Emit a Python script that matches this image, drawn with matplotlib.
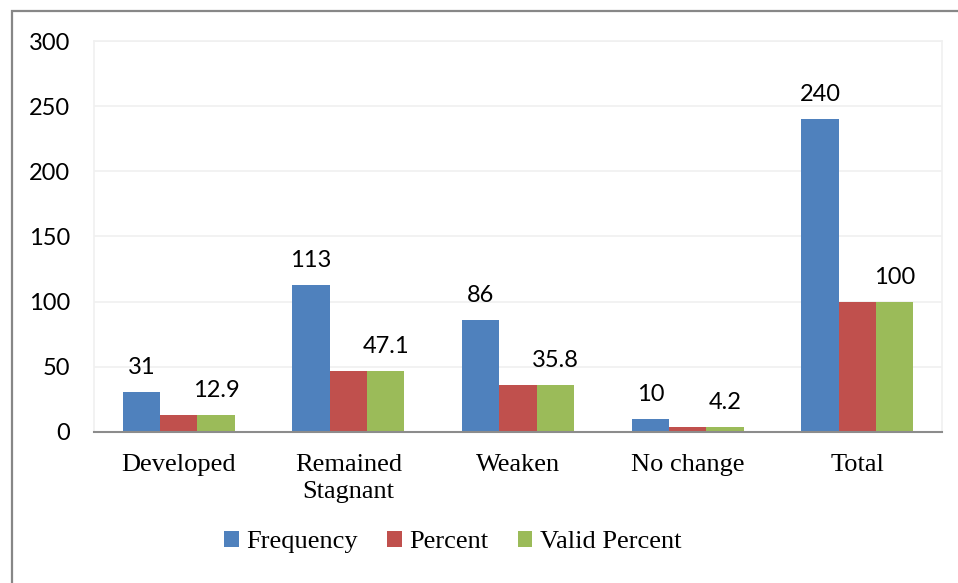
import numpy as np
import matplotlib.pyplot as plt
from matplotlib.patches import Rectangle

categories = ['Developed', 'Remained\nStagnant', 'Weaken', 'No change', 'Total']
frequency = [31, 113, 86, 10, 240]
percent = [12.9, 47.1, 35.8, 4.2, 100]
valid_percent = [12.9, 47.1, 35.8, 4.2, 100]
yticks = [0, 50, 100, 150, 200, 250, 300]

W, H = 958, 583
fig = plt.figure(figsize=(W / 100, H / 100), dpi=100)
ax = fig.add_axes([94 / W, 1 - 432 / H, (942 - 94) / W, (432 - 41) / H])

x = np.arange(len(categories))
w = 0.22
b1 = ax.bar(x - w, frequency, w, color='#4f81bd', label='Frequency', zorder=3)
b2 = ax.bar(x, percent, w, color='#c0504d', label='Percent', zorder=3)
b3 = ax.bar(x + w, valid_percent, w, color='#9bbb59', label='Valid Percent', zorder=3)

num_font = 'Lato'
for bars, vals in [(b1, frequency), (b3, valid_percent)]:
    for r, v in zip(bars, vals):
        ax.annotate(f'{v:g}', (r.get_x() + r.get_width() / 2, r.get_height()),
                    xytext=(0, 10), textcoords='offset points', ha='center', va='bottom',
                    fontsize=17, family=num_font)

ax.set_xlim(-0.5, len(categories) - 0.5)
ax.set_ylim(0, 300)
ax.set_yticks(yticks)
ax.set_yticklabels([str(t) for t in yticks], fontsize=17, family=num_font)
ax.set_xticks(x)
ax.set_xticklabels(categories, fontsize=19, family='Liberation Serif', linespacing=1.3)
ax.tick_params(axis='y', length=0, pad=17)
ax.tick_params(axis='x', length=0, pad=16)
ax.grid(axis='y', color='#f0f0f0', lw=1.2, zorder=0)

for s in ['left', 'right', 'top']:
    ax.spines[s].set_color('#f0f0f0')
    ax.spines[s].set_linewidth(1.2)
ax.spines['bottom'].set_color('#8c8c8c')
ax.spines['bottom'].set_linewidth(1.5)
ax.spines['bottom'].set_zorder(4)

fig.legend(handles=[b1, b2, b3], loc='center', bbox_to_anchor=(453 / W, 1 - 542 / H),
           ncol=3, frameon=False, prop={'family': 'Liberation Serif', 'size': 19},
           handlelength=0.55, handleheight=0.55, handletextpad=0.3, columnspacing=1.1)

fig.patches.append(Rectangle((12 / W, -0.1), 1.2, 1 - 11 / H + 0.1, transform=fig.transFigure,
                             fill=False, edgecolor='#878787', lw=1.6))

fig.savefig('out.png', dpi=100)
